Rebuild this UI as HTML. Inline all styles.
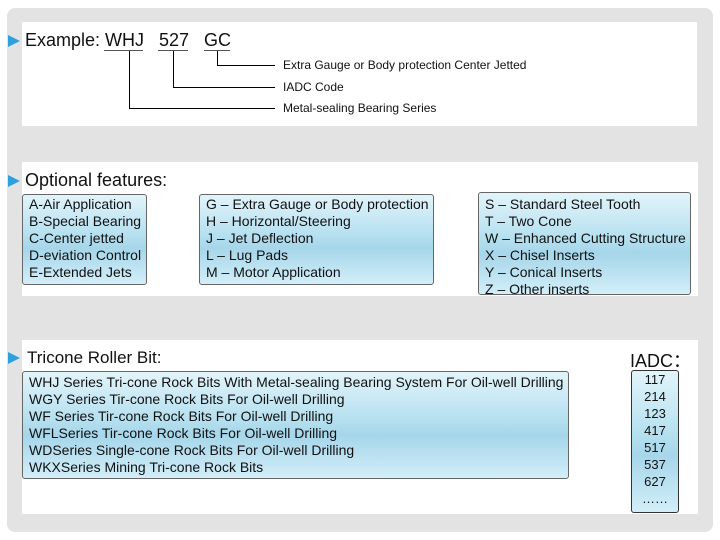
<!DOCTYPE html>
<html><head><meta charset="utf-8"><style>
body{margin:0;width:720px;height:540px;background:#fff;font-family:"Liberation Sans",sans-serif;position:relative;overflow:hidden;color:#111}
.bg{position:absolute;left:7px;top:8px;width:706px;height:524px;background:#e3e3e3;border-radius:8px}
.pn{position:absolute;background:#fff}
.box{position:absolute;border:1px solid #666;border-radius:3px;background:linear-gradient(#e2f4fa 0%,#b5e0ef 45%,#a6d6ea 60%,#d2eef8 100%);font-size:14px;line-height:17px;box-sizing:border-box;padding-left:6px;overflow:hidden}
.t{position:absolute;white-space:nowrap}
.arr{position:absolute;width:0;height:0;border-left:12px solid #2fa0dc;border-top:6px solid transparent;border-bottom:6px solid transparent}
</style></head><body>
<div class="bg"></div>
<div class="pn" style="left:22px;top:22px;width:675px;height:104px"></div>
<div class="pn" style="left:22px;top:162px;width:676px;height:134px"></div>
<div class="pn" style="left:22px;top:340px;width:676px;height:174px"></div>

<div class="arr" style="left:8px;top:35px"></div>
<div class="t" style="left:25px;top:30px;font-size:18px">Example:</div>
<div class="t" style="left:105px;top:30px;font-size:18px">WHJ</div>
<div class="t" style="left:159px;top:30px;font-size:18px">527</div>
<div class="t" style="left:204px;top:30px;font-size:18px">GC</div>
<svg style="position:absolute;left:0;top:0" width="720" height="540">
<g stroke="#555" stroke-width="1" fill="none">
<path d="M104 50.5H143M158 50.5H188M204 50.5H230"/>
</g>
<g stroke="#000" stroke-width="1" fill="none">
<path d="M217.5 51V65.5H275M173.5 51V87.5H275M129.5 51V108.5H275"/>
</g>
</svg>
<div class="t" style="left:283px;top:58px;font-size:12px">Extra Gauge or Body protection Center Jetted</div>
<div class="t" style="left:283px;top:80px;font-size:12px">IADC Code</div>
<div class="t" style="left:283px;top:101px;font-size:12px">Metal-sealing Bearing Series</div>

<div class="arr" style="left:8px;top:175px"></div>
<div class="t" style="left:25px;top:170px;font-size:18px">Optional features:</div>
<div class="box" style="left:22px;top:194px;width:125px;height:91px;padding-top:1px">A-Air Application<br>B-Special Bearing<br>C-Center jetted<br>D-eviation Control<br>E-Extended Jets</div>
<div class="box" style="left:199px;top:194px;width:235px;height:91px;padding-top:1px">G – Extra Gauge or Body protection<br>H – Horizontal/Steering<br>J – Jet Deflection<br>L – Lug Pads<br>M – Motor Application</div>
<div class="box" style="left:478px;top:192px;width:213px;height:103px;padding-top:3px">S – Standard Steel Tooth<br>T – Two Cone<br>W – Enhanced Cutting Structure<br>X – Chisel Inserts<br>Y – Conical Inserts<br>Z – Other inserts</div>

<div class="arr" style="left:8px;top:352px"></div>
<div class="t" style="left:27px;top:348px;font-size:17px">Tricone Roller Bit:</div>
<div class="t" style="left:630px;top:347px;font-size:18px">IADC：</div>
<div class="box" style="left:22px;top:371px;width:547px;height:108px;padding-top:2px;padding-left:6px">WHJ Series Tri-cone Rock Bits With Metal-sealing Bearing System For Oil-well Drilling<br>WGY Series Tir-cone Rock Bits For Oil-well Drilling<br>WF Series Tir-cone Rock Bits For Oil-well Drilling<br>WFLSeries Tir-cone Rock Bits For Oil-well Drilling<br>WDSeries Single-cone Rock Bits For Oil-well Drilling<br>WKXSeries Mining Tri-cone Rock Bits</div>
<div class="box" style="left:631px;top:370px;width:48px;height:143px;padding:0;text-align:center;font-size:13px;line-height:17px;border-color:#333">117<br>214<br>123<br>417<br>517<br>537<br>627<br>……</div>
</body></html>
